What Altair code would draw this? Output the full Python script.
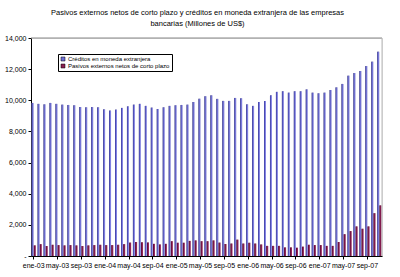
import altair as alt
import pandas as pd

month_names = ["ene", "feb", "mar", "abr", "may", "jun", "jul", "ago", "sep", "oct", "nov", "dic"]
periods = [f"{m}-{y:02d}" for y in range(3, 8) for m in month_names][:59]

creditos = [9830, 9770, 9740, 9830, 9770, 9720, 9700, 9680, 9570, 9550,
            9570, 9550, 9420, 9340, 9400, 9510, 9610, 9720, 9770, 9640,
            9530, 9440, 9550, 9640, 9680, 9700, 9720, 9890, 10100, 10260,
            10320, 10090, 9960, 9960, 10150, 10130, 9740, 9640, 9890, 9960,
            10320, 10540, 10580, 10490, 10580, 10580, 10700, 10490, 10450, 10490,
            10660, 10830, 11050, 11580, 11750, 11880, 12200, 12480, 13120]
pasivos = [680, 760, 640, 720, 700, 680, 700, 680, 640, 680,
           700, 720, 700, 700, 720, 760, 860, 900, 880, 860,
           780, 740, 780, 950, 850, 850, 970, 1000, 950, 950,
           1000, 860, 770, 800, 1050, 800, 850, 800, 740, 650,
           650, 650, 550, 550, 530, 600, 720, 700, 700, 650,
           650, 900, 1400, 1600, 1900, 1750, 1900, 2750, 3250]

s1 = "Créditos en moneda extranjera"
s2 = "Pasivos externos netos de corto plazo"
series = [s1, s2]
colors = ["#7070d8", "#8a1f50"]
tick_labels = periods[::4]

rows = []
for p, c, q in zip(periods, creditos, pasivos):
    rows.append({"periodo": p, "serie": s1, "valor": c})
    rows.append({"periodo": p, "serie": s2, "valor": q})
df = pd.DataFrame(rows)

x_enc = alt.X("periodo:N", sort=periods,
              scale=alt.Scale(paddingInner=0.3, paddingOuter=0.1),
              axis=alt.Axis(values=tick_labels, labelAngle=0, labelFontSize=7,
                            labelFont="Liberation Sans", labelColor="#000",
                            domainColor="#000", tickColor="#000", tickSize=3,
                            labelPadding=2, title=None))
xoff = alt.XOffset("serie:N", sort=series, scale=alt.Scale(domain=series, paddingInner=0.1))
y_enc = alt.Y("valor:Q", scale=alt.Scale(domain=[0, 14000], nice=False),
              axis=alt.Axis(values=list(range(0, 14001, 2000)), grid=False,
                            labelExpr="datum.value == 0 ? '-' : format(datum.value, ',')",
                            labelFontSize=7, labelFont="Liberation Sans", labelColor="#000",
                            domainColor="#000", tickColor="#000", tickSize=3,
                            labelPadding=2, title=None))

grad1 = alt.Gradient(gradient="linear", x1=0, x2=1, y1=0, y2=0,
                     stops=[alt.GradientStop(color="#2e2e96", offset=0),
                            alt.GradientStop(color="#a0a0ff", offset=1)])
grad2 = alt.Gradient(gradient="linear", x1=0, x2=1, y1=0, y2=0,
                     stops=[alt.GradientStop(color="#4a0022", offset=0),
                            alt.GradientStop(color="#b03070", offset=1)])

base = alt.Chart(df).encode(x=x_enc, xOffset=xoff, y=y_enc)

shadow = base.mark_bar(color="#a0a0a0", xOffset=1.2)
bars1 = base.transform_filter(alt.datum.serie == s1).mark_bar(color=grad1)
bars2 = base.transform_filter(alt.datum.serie == s2).mark_bar(color=grad2)
legend_layer = base.mark_square(opacity=0, size=0).encode(
    color=alt.Color("serie:N", sort=series,
                    scale=alt.Scale(domain=series, range=colors),
                    legend=alt.Legend(title=None, orient="none", legendX=27, legendY=16,
                                      direction="vertical", symbolType="square",
                                      symbolSize=16, symbolOpacity=1,
                                      symbolStrokeColor="#000", symbolStrokeWidth=0.5,
                                      labelFontSize=6, labelFont="Liberation Sans",
                                      labelColor="#000", rowPadding=1, labelOffset=2,
                                      strokeColor="#000", padding=2, fillColor="white",
                                      labelLimit=200))
)

frame = alt.Chart(pd.DataFrame({"a": [0]})).mark_rule(color="#888", strokeWidth=1).encode(
    x=alt.value(0), x2=alt.value(351), y=alt.value(0))
frame_r = alt.Chart(pd.DataFrame({"a": [0]})).mark_rule(color="#bbb", strokeWidth=1).encode(
    x=alt.value(351), y=alt.value(0), y2=alt.value(218))

chart = alt.layer(shadow, bars1, bars2, legend_layer, frame, frame_r).properties(
    width=351, height=218,
    title=alt.TitleParams(
        text=["Pasivos externos netos de corto plazo y créditos en moneda extranjera de las empresas",
              "bancarias (Millones de US$)"],
        fontSize=7.5, font="Liberation Sans", fontWeight="normal", color="#000",
        anchor="middle", dx=-9, offset=7, lineHeight=11),
    padding={"left": 31, "top": 38, "right": 18, "bottom": 21},
    autosize=alt.AutoSizeParams(type="none"),
).configure_view(stroke=None).configure(background="white")

chart.save("out.html", embed_options={"renderer": "svg", "actions": False})
